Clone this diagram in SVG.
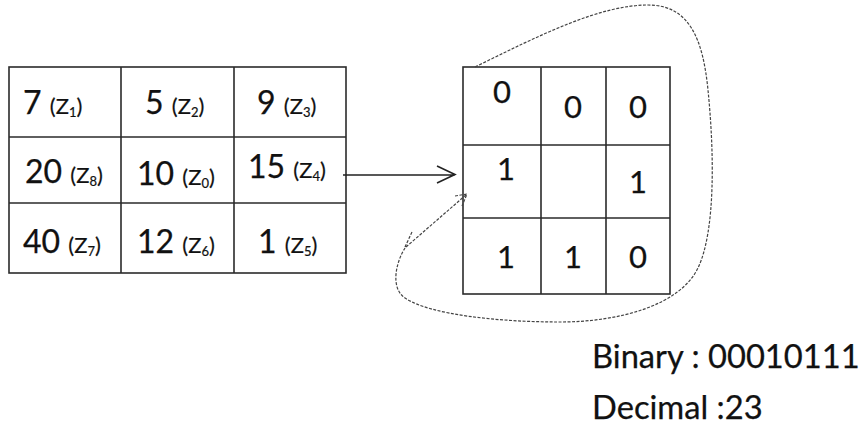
<svg xmlns="http://www.w3.org/2000/svg" width="861" height="444" viewBox="0 0 861 444">
  <style>
    .grid { fill: none; stroke: #2b2b2b; stroke-width: 1.6; }
    .num { font-family: Lato, "Open Sans", sans-serif; font-size: 32px; fill: #111; stroke: #111; stroke-width: 0.25; }
    .bit { font-family: Lato, "Open Sans", sans-serif; font-size: 31px; fill: #111; stroke: #111; stroke-width: 0.25; text-anchor: middle; }
    .z { font-size: 22px; stroke-width: 0.2; }
    .sub { font-size: 13px; }
    .note { font-family: Lato, "Open Sans", sans-serif; font-size: 32.7px; fill: #111; stroke: #111; stroke-width: 0.25; }
    .link { fill: none; stroke: #222; stroke-width: 1.6; }
    .dash { fill: none; stroke: #444; stroke-width: 1.2; stroke-dasharray: 3 1.5; }
  </style>

  <!-- 3x3 neighbourhood of pixel values -->
  <g id="values">
    <rect class="grid" x="9" y="67" width="337" height="206"/>
    <path class="grid" d="M121 67V273M234 67V273M9 137H346M9 203H346"/>
    <text class="num" x="23" y="114">7 <tspan class="z">(Z<tspan class="sub" dy="3">1</tspan><tspan dy="-3">)</tspan></tspan></text>
    <text class="num" x="145" y="114">5 <tspan class="z">(Z<tspan class="sub" dy="3">2</tspan><tspan dy="-3">)</tspan></tspan></text>
    <text class="num" x="257" y="114">9 <tspan class="z">(Z<tspan class="sub" dy="3">3</tspan><tspan dy="-3">)</tspan></tspan></text>
    <text class="num" x="25" y="183">20 <tspan class="z">(Z<tspan class="sub" dy="3">8</tspan><tspan dy="-3">)</tspan></tspan></text>
    <text class="num" x="137" y="185">10 <tspan class="z">(Z<tspan class="sub" dy="3">0</tspan><tspan dy="-3">)</tspan></tspan></text>
    <text class="num" x="248" y="178">15 <tspan class="z">(Z<tspan class="sub" dy="3">4</tspan><tspan dy="-3">)</tspan></tspan></text>
    <text class="num" x="23" y="253">40 <tspan class="z">(Z<tspan class="sub" dy="3">7</tspan><tspan dy="-3">)</tspan></tspan></text>
    <text class="num" x="137" y="253">12 <tspan class="z">(Z<tspan class="sub" dy="3">6</tspan><tspan dy="-3">)</tspan></tspan></text>
    <text class="num" x="258" y="253">1 <tspan class="z">(Z<tspan class="sub" dy="3">5</tspan><tspan dy="-3">)</tspan></tspan></text>
  </g>

  <!-- thresholded binary pattern -->
  <g id="bits">
    <rect class="grid" x="463" y="67" width="207" height="227"/>
    <path class="grid" d="M541 67V294M606 67V294M463 145H670M463 218H670"/>
    <text class="bit" x="502" y="103">0</text>
    <text class="bit" x="573" y="118">0</text>
    <text class="bit" x="638" y="118">0</text>
    <text class="bit" x="506" y="180">1</text>
    <text class="bit" x="638" y="193">1</text>
    <text class="bit" x="506" y="268">1</text>
    <text class="bit" x="573" y="268">1</text>
    <text class="bit" x="638" y="268">0</text>
  </g>

  <g id="result">
    <text class="note" x="592" y="368">Binary : 00010111</text>
    <text class="note" x="592" y="419">Decimal :23</text>
  </g>

  <g id="connectors">
    <path class="link" d="M343 175H455M437 166L455 174.5L437 183"/>
    <!-- circular read-out path around the pattern -->
    <path class="dash" d="M475 67C540 35 600 5 648 5C690 5 703 40 708 90C714 150 716 230 698 268C680 305 620 322 560 322C500 322 430 315 405 298C390 288 396 262 405 248"/>
    <path class="dash" stroke-width="1.8" d="M406 247L467 194M455 196L467 194L462 206M405 247L412 232"/>
  </g>
</svg>
